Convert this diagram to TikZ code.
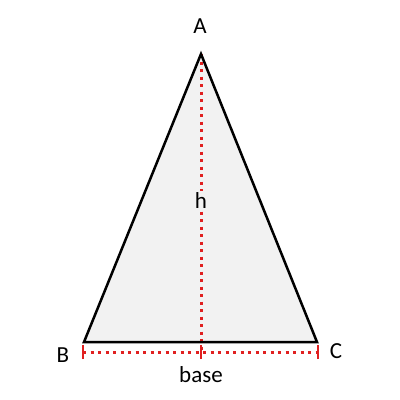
\documentclass[tikz,border=0pt]{standalone}
\usepackage{fontspec}
\setmainfont{Carlito}
\definecolor{trifill}{HTML}{F2F2F2}
\definecolor{dimred}{HTML}{E02020}
\begin{document}
\begin{tikzpicture}[x=1pt,y=-1pt,
  edge/.style={draw=black,line width=2.5pt,line join=miter},
  dimline/.style={draw=dimred,line width=3pt,dash pattern=on 3pt off 4.5pt},
  tickline/.style={draw=dimred,line width=2.5pt},
  lbl/.style={font=\fontsize{23}{26}\selectfont,inner sep=1pt}]
\useasboundingbox (0,0) rectangle (400,400);
\coordinate (A) at (201,54);
\coordinate (B) at (84,342);
\coordinate (C) at (317,342);
\coordinate (F) at (201,342);
\coordinate (DB) at (83,352);
\coordinate (DC) at (318,352);
\coordinate (DF) at (201,352);
\fill[trifill] (A) -- (B) -- (C) -- cycle;
\draw[dimline] (A) -- (DF);
\draw[dimline] (DB) -- (DC);
\foreach \p in {DB,DF,DC} \draw[tickline] ([yshift=-7]\p) -- ([yshift=7]\p);
\draw[edge] (A) -- (B) -- (C) -- cycle;
\node[lbl] (la) at (200,26) {A};
\node[lbl,fill=trifill,inner sep=2pt] (lh) at (201,201) {h};
\node[lbl] (lb) at (63,355) {B};
\node[lbl] (lc) at (336,351) {C};
\node[lbl] (lbase) at (201,375) {base};
\end{tikzpicture}
\end{document}
